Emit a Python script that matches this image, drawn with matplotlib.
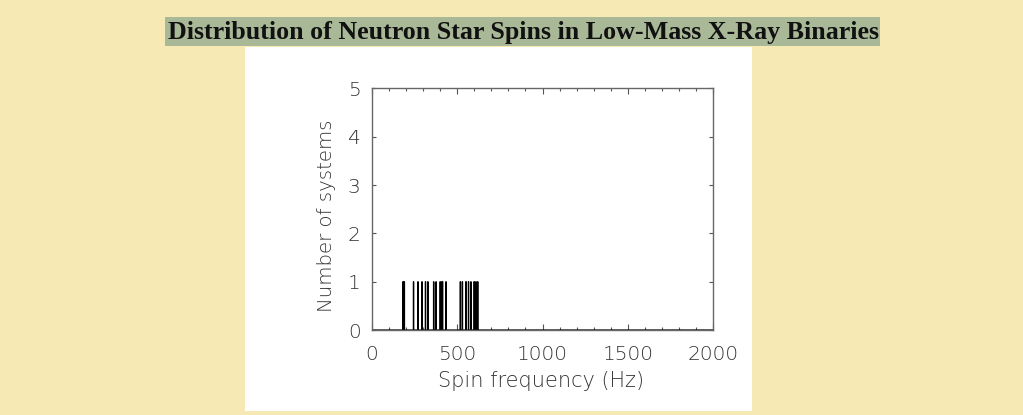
import matplotlib
matplotlib.use("Agg")
import matplotlib.pyplot as plt
from matplotlib.patches import Rectangle
import numpy as np

title = "Distribution of Neutron Star Spins in Low-Mass X-Ray Binaries"
xlabel = "Spin frequency (Hz)"
ylabel = "Number of systems"

spin_hz = [182, 185, 191, 245, 270, 294, 314, 329, 363, 377, 401, 410, 415,
           435, 518, 530, 550, 552, 567, 581, 599, 601, 611, 620]
bin_width = 2
x_range = (0, 2000)
y_range = (0, 5)
x_major = [0, 500, 1000, 1500, 2000]
y_major = [0, 1, 2, 3, 4, 5]

W, H = 1023, 415
fig = plt.figure(figsize=(W / 100, H / 100), dpi=100)
fig.patch.set_facecolor("#F7E9B3")

# white panel
fig.add_artist(Rectangle((245 / W, (H - 411) / H), 507 / W, 364 / H,
                         transform=fig.transFigure, facecolor="white",
                         edgecolor="none", zorder=0))
# title highlight
fig.add_artist(Rectangle((165 / W, (H - 46) / H), 715 / W, 29 / H,
                         transform=fig.transFigure, facecolor="#A9B897",
                         edgecolor="none", zorder=1))
fig.text(523 / W, (H - 32) / H, title, ha="center", va="center",
         fontsize=18.7, fontweight="bold", family="Liberation Serif",
         color="#111111", zorder=2)

ax = fig.add_axes([371.7 / W, (H - 330) / H, 341.6 / W, 241.5 / H])
ax.set_facecolor("white")
bins = np.arange(x_range[0], x_range[1] + bin_width, bin_width)
ax.hist(spin_hz, bins=bins, histtype="step", color="black", linewidth=0.9)
ax.set_xlim(*x_range)
ax.set_ylim(*y_range)
ax.set_xticks(x_major)
ax.set_xticks(np.arange(0, 2001, 100), minor=True)
ax.set_yticks(y_major)
for s in ax.spines.values():
    s.set_color("#666666")
    s.set_linewidth(1.0)
ax.tick_params(axis="both", which="both", direction="in", top=True,
               right=True, colors="#555555", labelcolor="#333333",
               labelsize=14.5, width=0.8)
ax.tick_params(axis="x", which="major", length=4, pad=11)
ax.tick_params(axis="x", which="minor", length=2)
ax.tick_params(axis="y", which="major", length=3, pad=8)
for lab in ax.get_xticklabels() + ax.get_yticklabels():
    lab.set_family("DejaVu Sans")
    lab.set_fontweight("light")

fig.text(541 / W, (H - 381) / H, xlabel, ha="center", va="center",
         fontsize=15, color="#333333", family="DejaVu Sans",
         fontweight="light")
fig.text(327 / W, (H - 216) / H, ylabel, ha="center", va="center",
         rotation=90, fontsize=14.2, color="#333333", family="DejaVu Sans",
         fontweight="light")

fig.savefig("out.png", dpi=100, facecolor=fig.get_facecolor())
